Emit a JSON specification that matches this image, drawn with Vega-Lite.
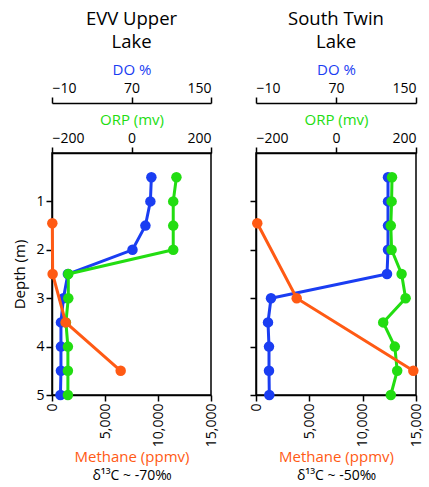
{
  "$schema": "https://vega.github.io/schema/vega-lite/v6.json",
  "padding": {"left": 12, "top": 8, "right": 5, "bottom": 5},
  "config": {
    "font": "Open Sans",
    "view": {"stroke": "black", "strokeWidth": 1.5},
    "axis": {"domainColor": "black", "domainWidth": 1.5, "tickColor": "black", "tickWidth": 1.5, "tickSize": 6, "labelColor": "black", "labelFontSize": 14, "titleFontSize": 15, "titleFontWeight": "normal", "grid": false, "labelPadding": 2},
    "title": {"fontSize": 18.5, "fontWeight": "normal", "color": "black", "lineHeight": 23}
  },
  "datasets": {
    "evv": [
      {"var": "DO", "depth": 0.5, "value": 90},
      {"var": "DO", "depth": 1, "value": 89},
      {"var": "DO", "depth": 1.5, "value": 84},
      {"var": "DO", "depth": 2, "value": 71},
      {"var": "DO", "depth": 2.5, "value": 6},
      {"var": "DO", "depth": 3, "value": 1.5},
      {"var": "DO", "depth": 3.5, "value": -1},
      {"var": "DO", "depth": 4, "value": -1},
      {"var": "DO", "depth": 4.5, "value": -1},
      {"var": "DO", "depth": 5, "value": -1.5},
      {"var": "ORP", "depth": 0.5, "value": 113},
      {"var": "ORP", "depth": 1, "value": 105},
      {"var": "ORP", "depth": 1.5, "value": 105},
      {"var": "ORP", "depth": 2, "value": 105},
      {"var": "ORP", "depth": 2.5, "value": -159},
      {"var": "ORP", "depth": 3, "value": -159},
      {"var": "ORP", "depth": 3.5, "value": -165},
      {"var": "ORP", "depth": 4, "value": -160},
      {"var": "ORP", "depth": 4.5, "value": -160},
      {"var": "ORP", "depth": 5, "value": -160},
      {"var": "CH4", "depth": 1.45, "value": 30},
      {"var": "CH4", "depth": 2.5, "value": 60},
      {"var": "CH4", "depth": 3.5, "value": 1290},
      {"var": "CH4", "depth": 4.5, "value": 6480}
    ],
    "stl": [
      {"var": "DO", "depth": 0.5, "value": 122},
      {"var": "DO", "depth": 1, "value": 122},
      {"var": "DO", "depth": 1.5, "value": 122},
      {"var": "DO", "depth": 2, "value": 122},
      {"var": "DO", "depth": 2.5, "value": 121},
      {"var": "DO", "depth": 3, "value": 5},
      {"var": "DO", "depth": 3.5, "value": 2},
      {"var": "DO", "depth": 4, "value": 3},
      {"var": "DO", "depth": 4.5, "value": 3},
      {"var": "DO", "depth": 5, "value": 3.3},
      {"var": "ORP", "depth": 0.5, "value": 140},
      {"var": "ORP", "depth": 1, "value": 139},
      {"var": "ORP", "depth": 1.5, "value": 137},
      {"var": "ORP", "depth": 2, "value": 139},
      {"var": "ORP", "depth": 2.5, "value": 164},
      {"var": "ORP", "depth": 3, "value": 174},
      {"var": "ORP", "depth": 3.5, "value": 118},
      {"var": "ORP", "depth": 4, "value": 147},
      {"var": "ORP", "depth": 4.5, "value": 153},
      {"var": "ORP", "depth": 5, "value": 137},
      {"var": "CH4", "depth": 1.45, "value": 120},
      {"var": "CH4", "depth": 3, "value": 3815},
      {"var": "CH4", "depth": 4.5, "value": 14750}
    ]
  },
  "spacing": 45,
  "bounds": "flush",
  "hconcat": [
    {
      "title": {"text": ["EVV Upper", "Lake"], "offset": 11},
      "width": 159,
      "height": 242,
      "data": {"name": "evv"},
      "encoding": {
        "y": {"field": "depth", "type": "quantitative", "scale": {"domain": [0, 5], "reverse": true}, "axis": {"values": [1, 2, 3, 4, 5], "title": "Depth (m)", "titlePadding": 8}},
        "order": {"field": "depth", "type": "quantitative"}
      },
      "layer": [
        {
          "transform": [{"filter": "datum.var == 'DO'"}],
          "mark": {"type": "line", "color": "#1a3df2", "strokeWidth": 3, "point": {"size": 110, "filled": true, "opacity": 1, "color": "#1a3df2"}},
          "encoding": {"x": {"field": "value", "type": "quantitative", "scale": {"domain": [-10, 150], "nice": false, "zero": false}, "axis": {"orient": "top", "offset": 50, "values": [-10, 70, 150], "title": "DO %", "titleColor": "#1a3df2", "titlePadding": 4}}}
        },
        {
          "transform": [{"filter": "datum.var == 'ORP'"}],
          "mark": {"type": "line", "color": "#22dd11", "strokeWidth": 3, "point": {"size": 110, "filled": true, "opacity": 1, "color": "#22dd11"}},
          "encoding": {"x": {"field": "value", "type": "quantitative", "scale": {"domain": [-200, 200], "nice": false, "zero": false}, "axis": {"orient": "top", "values": [-200, 0, 200], "title": "ORP (mv)", "titleColor": "#22dd11", "titlePadding": 4}}}
        },
        {
          "transform": [{"filter": "datum.var == 'CH4'"}],
          "mark": {"type": "line", "color": "#ff5a14", "strokeWidth": 3, "point": {"size": 110, "filled": true, "opacity": 1, "color": "#ff5a14"}},
          "encoding": {"x": {"field": "value", "type": "quantitative", "scale": {"domain": [0, 15000], "nice": false}, "axis": {"orient": "bottom", "values": [0, 5000, 10000, 15000], "labelExpr": "format(datum.value, ',')", "labelAngle": 270, "title": "Methane (ppmv)", "titleColor": "#ff5a14", "titlePadding": 3}}}
        },
        {
          "transform": [{"filter": "datum.var == 'CH4'"}],
          "mark": {"type": "point", "opacity": 0},
          "encoding": {"x": {"field": "value", "type": "quantitative", "scale": {"domain": [0, 15000], "nice": false}, "axis": {"orient": "bottom", "labels": false, "ticks": false, "domain": false, "title": "δ¹³C ~ -70‰", "titleFontSize": 14, "titlePadding": 73}}}
        }
      ],
      "resolve": {"scale": {"x": "independent"}, "axis": {"x": "independent"}}
    },
    {
      "title": {"text": ["South Twin", "Lake"], "offset": 11},
      "width": 160,
      "height": 242,
      "data": {"name": "stl"},
      "encoding": {
        "y": {"field": "depth", "type": "quantitative", "scale": {"domain": [0, 5], "reverse": true}, "axis": {"values": [1, 2, 3, 4, 5], "title": null, "labels": false}},
        "order": {"field": "depth", "type": "quantitative"}
      },
      "layer": [
        {
          "transform": [{"filter": "datum.var == 'DO'"}],
          "mark": {"type": "line", "color": "#1a3df2", "strokeWidth": 3, "point": {"size": 110, "filled": true, "opacity": 1, "color": "#1a3df2"}},
          "encoding": {"x": {"field": "value", "type": "quantitative", "scale": {"domain": [-10, 150], "nice": false, "zero": false}, "axis": {"orient": "top", "offset": 50, "values": [-10, 70, 150], "title": "DO %", "titleColor": "#1a3df2", "titlePadding": 4}}}
        },
        {
          "transform": [{"filter": "datum.var == 'ORP'"}],
          "mark": {"type": "line", "color": "#22dd11", "strokeWidth": 3, "point": {"size": 110, "filled": true, "opacity": 1, "color": "#22dd11"}},
          "encoding": {"x": {"field": "value", "type": "quantitative", "scale": {"domain": [-200, 200], "nice": false, "zero": false}, "axis": {"orient": "top", "values": [-200, 0, 200], "title": "ORP (mv)", "titleColor": "#22dd11", "titlePadding": 4}}}
        },
        {
          "transform": [{"filter": "datum.var == 'CH4'"}],
          "mark": {"type": "line", "color": "#ff5a14", "strokeWidth": 3, "point": {"size": 110, "filled": true, "opacity": 1, "color": "#ff5a14"}},
          "encoding": {"x": {"field": "value", "type": "quantitative", "scale": {"domain": [0, 15000], "nice": false}, "axis": {"orient": "bottom", "values": [0, 5000, 10000, 15000], "labelExpr": "format(datum.value, ',')", "labelAngle": 270, "title": "Methane (ppmv)", "titleColor": "#ff5a14", "titlePadding": 3}}}
        },
        {
          "transform": [{"filter": "datum.var == 'CH4'"}],
          "mark": {"type": "point", "opacity": 0},
          "encoding": {"x": {"field": "value", "type": "quantitative", "scale": {"domain": [0, 15000], "nice": false}, "axis": {"orient": "bottom", "labels": false, "ticks": false, "domain": false, "title": "δ¹³C ~ -50‰", "titleFontSize": 14, "titlePadding": 73}}}
        }
      ],
      "resolve": {"scale": {"x": "independent"}, "axis": {"x": "independent"}}
    }
  ]
}
